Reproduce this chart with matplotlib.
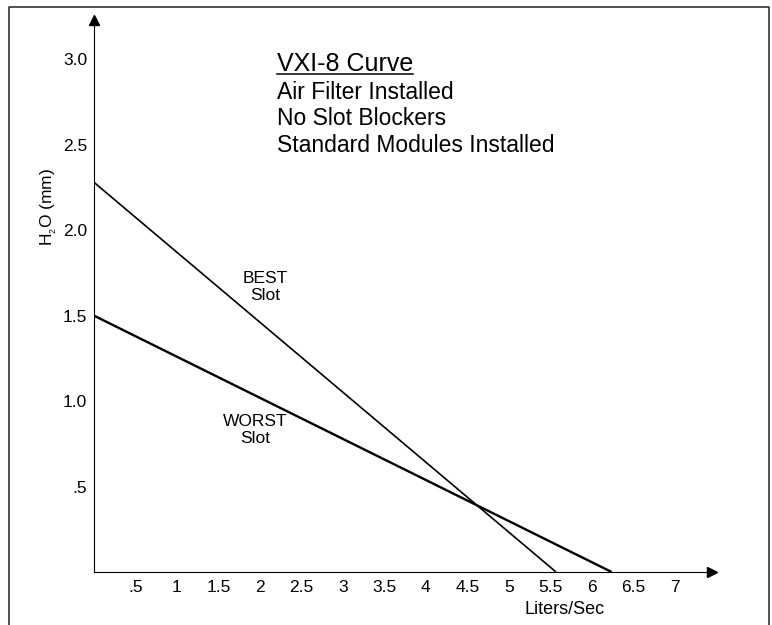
import matplotlib
matplotlib.use("Agg")
import matplotlib.pyplot as plt
from matplotlib.lines import Line2D

plt.rcParams['font.family'] = ['Liberation Sans', 'DejaVu Sans']

# Data
flow_best = [0.0, 5.57]
h2o_best = [2.28, 0.0]
flow_worst = [0.0, 6.24]
h2o_worst = [1.50, 0.0]

x_ticks = [0.5, 1, 1.5, 2, 2.5, 3, 3.5, 4, 4.5, 5, 5.5, 6, 6.5, 7]
x_tick_labels = [".5", "1", "1.5", "2", "2.5", "3", "3.5", "4", "4.5", "5", "5.5", "6", "6.5", "7"]
y_ticks = [0.5, 1.0, 1.5, 2.0, 2.5, 3.0]
y_tick_labels = [".5", "1.0", "1.5", "2.0", "2.5", "3.0"]

title_lines = ["VXI-8 Curve", "Air Filter Installed", "No Slot Blockers", "Standard Modules Installed"]

W, H = 772, 625
fig = plt.figure(figsize=(W / 100, H / 100), dpi=100)
ax = fig.add_axes([94 / W, 1 - 572 / H, (712 - 94) / W, (572 - 20) / H])

ax.plot(flow_best, h2o_best, color='black', lw=1.2, solid_capstyle='butt')
ax.plot(flow_worst, h2o_worst, color='black', lw=1.7, solid_capstyle='butt')

ax.set_xlim(0, 7.45)
ax.set_ylim(0, 3.23)
ax.spines['top'].set_visible(False)
ax.spines['right'].set_visible(False)
for s in ('left', 'bottom'):
    ax.spines[s].set_linewidth(0.8)
ax.set_xticks(x_ticks)
ax.set_xticklabels(x_tick_labels)
ax.set_yticks(y_ticks)
ax.set_yticklabels(y_tick_labels)
ax.tick_params(axis='both', length=0, labelsize=12.5)
ax.tick_params(axis='x', pad=6)
ax.tick_params(axis='y', pad=5)

# arrowheads
ax.plot(1, 0, marker='>', color='black', markersize=7, transform=ax.transAxes, clip_on=False)
ax.plot(0, 1, marker='^', color='black', markersize=7, transform=ax.transAxes, clip_on=False)

# axis labels
fig.text(565 / W, 1 - 614 / H, "Liters/Sec", ha='center', va='baseline', fontsize=13)
fig.text(49 / W, 1 - 207 / H, r"H$_{\mathregular{_2}}$O (mm)", ha='center', va='center',
         rotation=90, fontsize=12.5)

# curve annotations
fig.text(265 / W, 1 - 287 / H, "BEST\nSlot", ha='center', va='center', fontsize=12.5,
         linespacing=1.15)
fig.text(255 / W, 1 - 430 / H, "WORST\nSlot", ha='center', va='center', fontsize=12.5,
         linespacing=1.15)

# title block
baselines = [71, 99, 125, 152]
sizes = [18, 16.5, 16.5, 16.5]
title_texts = []
for line, yy, fs in zip(title_lines, baselines, sizes):
    t = fig.text(277 / W, 1 - yy / H, line, ha='left', va='baseline', fontsize=fs)
    title_texts.append(t)

fig.canvas.draw()
bb = title_texts[0].get_window_extent()
uy = H - 74
fig.add_artist(Line2D([bb.x0 / W, bb.x1 / W], [uy / H, uy / H], color='black', lw=1.1,
                      transform=fig.transFigure))

# figure border (left, top, right)
fig.add_artist(Line2D([9 / W, 9 / W, 769 / W, 769 / W], [0, 1 - 7 / H, 1 - 7 / H, 0],
                      color='#333333', lw=1.2, transform=fig.transFigure))

fig.savefig("out.png", dpi=100)
